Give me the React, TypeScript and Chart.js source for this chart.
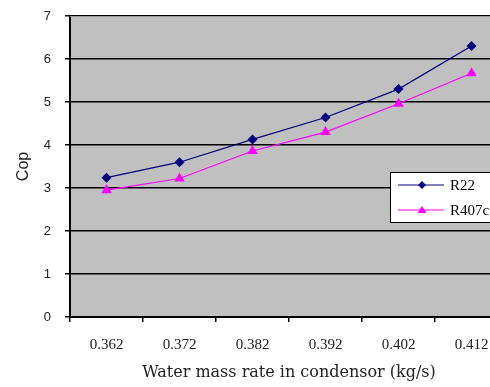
import React, { useEffect, useRef } from "react";
import { Chart, registerables } from "chart.js";

Chart.register(...registerables);

// Water flow rates through the condenser (kg/s)
const flowRates = ["0.362", "0.372", "0.382", "0.392", "0.402", "0.412"];
// Coefficient of performance per refrigerant
const copR22 = [3.24, 3.6, 4.13, 4.64, 5.3, 6.3];
const copR407c = [2.95, 3.22, 3.86, 4.3, 4.96, 5.67];

const CANVAS_W = 515;
const CANVAS_H = 387;

// Grey plot background plus a light top border
const plotBackground = {
  id: "plotBackground",
  beforeDraw(chart: any) {
    const { ctx, chartArea } = chart;
    ctx.save();
    ctx.fillStyle = "#c0c0c0";
    ctx.fillRect(chartArea.left, chartArea.top, chartArea.right - chartArea.left, chartArea.bottom - chartArea.top);
    ctx.restore();
  },
  afterDraw(chart: any) {
    const { ctx, chartArea } = chart;
    ctx.save();
    ctx.strokeStyle = "#9a9a9a";
    ctx.lineWidth = 1;
    ctx.beginPath();
    ctx.moveTo(chartArea.left, chartArea.top + 0.5);
    ctx.lineTo(chartArea.right, chartArea.top + 0.5);
    ctx.stroke();
    ctx.restore();
  },
};

// Boxed legend sitting inside the plot on the right
const boxedLegend = {
  id: "boxedLegend",
  afterDatasetsDraw(chart: any) {
    const { ctx } = chart;
    const x0 = 390;
    const y0 = 172;
    const w = 130;
    const h = 50;
    ctx.save();
    ctx.fillStyle = "#ffffff";
    ctx.fillRect(x0, y0, w, h);
    ctx.strokeStyle = "#000000";
    ctx.lineWidth = 1;
    ctx.strokeRect(x0 + 0.5, y0 + 0.5, w, h);
    chart.data.datasets.forEach((ds: any, i: number) => {
      const y = y0 + 13 + i * 25;
      ctx.strokeStyle = ds.borderColor;
      ctx.lineWidth = 1;
      ctx.beginPath();
      ctx.moveTo(398, y);
      ctx.lineTo(444, y);
      ctx.stroke();
      ctx.fillStyle = ds.backgroundColor;
      ctx.beginPath();
      if (ds.pointStyle === "rectRot") {
        ctx.moveTo(422, y - 4);
        ctx.lineTo(426, y);
        ctx.lineTo(422, y + 4);
        ctx.lineTo(418, y);
      } else {
        ctx.moveTo(422, y - 4);
        ctx.lineTo(426.5, y + 3);
        ctx.lineTo(417.5, y + 3);
      }
      ctx.closePath();
      ctx.fill();
      ctx.fillStyle = "#000000";
      ctx.font = "15px 'Liberation Serif', serif";
      ctx.textBaseline = "middle";
      ctx.textAlign = "left";
      ctx.fillText(ds.label, 450, y + 1);
    });
    ctx.restore();
  },
};

export default function App() {
  const canvasRef = useRef<HTMLCanvasElement | null>(null);

  useEffect(() => {
    if (!canvasRef.current) return;
    const chart = new Chart(canvasRef.current, {
      type: "line",
      data: {
        labels: flowRates,
        datasets: [
          {
            label: "R22",
            data: copR22,
            borderColor: "#000080",
            backgroundColor: "#000080",
            borderWidth: 1.2,
            pointStyle: "rectRot",
            pointRadius: 5,
            pointBorderWidth: 0,
            tension: 0,
          },
          {
            label: "R407c",
            data: copR407c,
            borderColor: "#ff00ff",
            backgroundColor: "#ff00ff",
            borderWidth: 1.2,
            pointStyle: "triangle",
            pointRadius: 6,
            pointBorderWidth: 0,
            tension: 0,
          },
        ],
      },
      options: {
        responsive: false,
        animation: false,
        devicePixelRatio: 1,
        layout: { padding: { top: 16, right: 7, left: 14, bottom: 5 } },
        plugins: {
          legend: { display: false },
          tooltip: { enabled: false },
        },
        scales: {
          x: {
            offset: true,
            grid: {
              offset: true,
              drawOnChartArea: false,
              drawTicks: true,
              tickLength: 5,
              color: "#000000",
              lineWidth: 1.5,
            },
            border: { display: true, color: "#000000", width: 2 },
            ticks: {
              color: "#222222",
              font: { family: "'Liberation Serif', serif", size: 15 },
              padding: 14,
              maxRotation: 0,
            },
            title: {
              display: true,
              text: "Water mass rate in condensor (kg/s)",
              color: "#222222",
              font: { family: "'DejaVu Serif', serif", size: 16 },
              padding: { top: 0, bottom: 0 },
            },
            afterFit(scale: any) {
              scale.height = 65;
              scale.paddingLeft = 0;
              scale.paddingRight = 0;
            },
          },
          y: {
            min: 0,
            max: 7,
            ticks: {
              stepSize: 1,
              color: "#222222",
              font: { family: "'Liberation Sans', Arial, sans-serif", size: 13 },
              padding: 14,
            },
            grid: {
              color: "#000000",
              lineWidth: 1.5,
              tickLength: 5,
            },
            border: { display: true, color: "#000000", width: 2 },
            title: {
              display: true,
              text: "Cop",
              color: "#222222",
              font: { family: "'Liberation Sans', Arial, sans-serif", size: 16 },
              padding: { top: 0, bottom: 4 },
            },
            afterFit(scale: any) {
              scale.width = 56;
              scale.paddingTop = 0;
              scale.paddingBottom = 0;
            },
          },
        },
      },
      plugins: [plotBackground, boxedLegend],
    });
    return () => chart.destroy();
  }, []);

  return (
    <div
      style={{
        position: "fixed",
        left: 0,
        top: 0,
        width: 490,
        height: 387,
        overflow: "hidden",
        background: "#ffffff",
      }}
    >
      <canvas ref={canvasRef} width={CANVAS_W} height={CANVAS_H} style={{ display: "block" }} />
    </div>
  );
}
